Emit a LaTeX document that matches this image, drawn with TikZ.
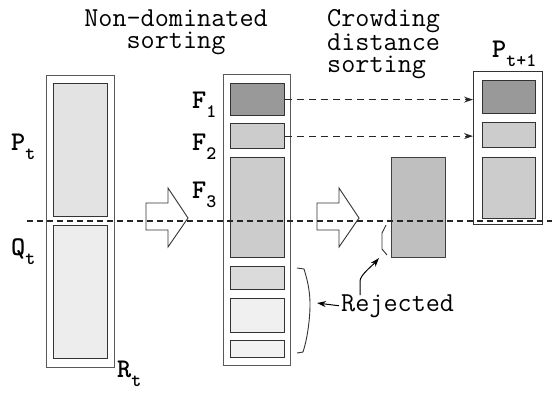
\documentclass[tikz,border=0pt]{standalone}
\usepackage{fontspec}
\usetikzlibrary{arrows.meta}
\newcommand\lsub[1]{\raisebox{-9pt}{\fontsize{19}{19}\selectfont #1}}
\begin{document}
\begin{tikzpicture}[x=1pt,y=-1pt,
  outer/.style={draw=black!65,line width=0.9pt,inner sep=0pt,anchor=north west},
  inbox/.style={draw=black!80,line width=1.2pt,inner sep=0pt,anchor=north west},
  lab/.style={font=\ttfamily\bfseries\fontsize{27}{27}\selectfont,inner sep=0pt,anchor=base west},
  ttl/.style={font=\ttfamily\fontsize{27.4}{22}\selectfont,inner sep=0pt},
  bigarrow/.style={draw=black!80,line width=0.9pt,fill=white,line join=miter},
  hdash/.style={draw=black!85,line width=1.3pt,dash pattern=on 6pt off 4pt},
  darr/.style={draw=black!85,line width=1.2pt,dash pattern=on 7pt off 5pt,-{Stealth[length=9pt,width=6pt]}},
  sarr/.style={draw=black,line width=1pt,-{Stealth[length=9pt,width=6pt]}}]
\useasboundingbox (0,0) rectangle (554,392);

% left population R_t
\node[outer,minimum width=68pt,minimum height=292pt] (R) at (46,75) {};
\node[inbox,fill=black!11,minimum width=54pt,minimum height=133pt] (P) at (53,83) {};
\node[inbox,fill=black!7,minimum width=54pt,minimum height=133pt] (Q) at (53,225) {};

% middle sorted fronts
\node[outer,minimum width=67pt,minimum height=291pt] (M) at (223,74) {};
\node[inbox,fill=black!40,minimum width=54pt,minimum height=32pt] (f1) at (230,83) {};
\node[inbox,fill=black!20,minimum width=54pt,minimum height=25pt] (f2) at (230,123) {};
\node[inbox,fill=black!20,minimum width=54pt,minimum height=100pt] (f3) at (230,157) {};
\node[inbox,fill=black!14,minimum width=54pt,minimum height=23pt] (f4) at (230,266) {};
\node[inbox,fill=black!6,minimum width=54pt,minimum height=34pt] (f5) at (230,298) {};
\node[inbox,fill=black!5,minimum width=54pt,minimum height=17pt] (f6) at (230,340) {};

% crowding distance sorted front
\node[outer,draw=black!75,fill=black!25,minimum width=54pt,minimum height=100pt] (C) at (391,157) {};

% new population
\node[outer,draw=black!80,minimum width=69pt,minimum height=153pt] (N) at (473,71) {};
\node[inbox,fill=black!40,minimum width=53pt,minimum height=33pt] (n1) at (482,80) {};
\node[inbox,fill=black!20,minimum width=53pt,minimum height=25pt] (n2) at (482,122) {};
\node[inbox,fill=black!20,minimum width=53pt,minimum height=61pt] (n3) at (482,157) {};

% labels
\node[lab] (Pl) at (11,150) {P\lsub{t}};
\node[lab] (Ql) at (11,255) {Q\lsub{t}};
\node[lab] (Rl) at (117,377) {R\lsub{t}};
\node[lab] (F1) at (192,108) {F\lsub{1}};
\node[lab] (F2) at (192,150) {F\lsub{2}};
\node[lab] (F3) at (192,198) {F\lsub{3}};
\node[lab] (Nl) at (492,57) {P\lsub{t+1}};

% titles
\node[ttl,align=center,anchor=north] (T1) at (176,10) {Non-dominated\\sorting};
\node[ttl,align=left,anchor=north west] (T2) at (327,9) {Crowding\\distance\\sorting};

% big arrows
\foreach \dx in {0,171}{
  \draw[bigarrow,xshift=\dx pt] (146,203) -- (168,203) -- (168,188) -- (188,218)
     -- (168,247) -- (168,230) -- (146,230) -- cycle;
}

% dashed transfer arrows
\draw[darr] (f1.east) -- (f1.east -| N.west);
\draw[darr] (f2.east) -- (f2.east -| N.west);

% rejected
\node[font=\ttfamily\fontsize{27.4}{27}\selectfont,inner sep=0pt,anchor=base west] (rej) at (341,311) {Rejected};
\coordinate (bm) at (317,303);
\draw[sarr] ([xshift=-2pt]rej.west) -- (bm);
\coordinate (b1) at (297,268);
\coordinate (b2) at (297,353);
\draw[line width=0.9pt,black!80] (b1) -- (304,269) .. controls (309,285) and (310,295) .. (310,305)
   .. controls (310,320) and (307,340) .. (303,352) -- (b2);
% cut mark
\coordinate (c1) at (386,225);
\coordinate (c2) at (387,255);
\draw[line width=0.9pt,black!80] (c1) -- (382,233) -- (382,249) -- (c2);
\coordinate (ce) at (379,258);
\draw[sarr] ([xshift=19pt,yshift=-1pt]rej.north west) -- ++(0,-14) .. controls +(0,-6) and +(-6,7) .. (ce);

% cut line
\coordinate (hl) at (27,221);
\coordinate (hr) at (552,221);
\draw[hdash] (hl) -- (hr);
\end{tikzpicture}
\end{document}
